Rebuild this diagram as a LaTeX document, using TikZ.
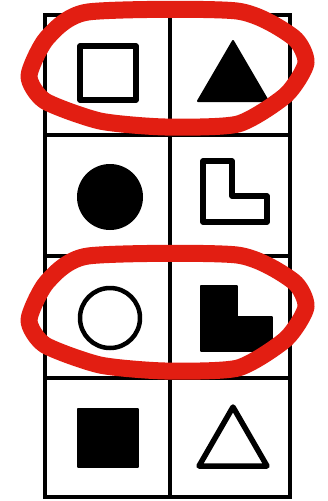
\documentclass[tikz,border=0pt]{standalone}
\usetikzlibrary{calc}
\definecolor{penred}{RGB}{226,30,18}

\begin{document}
\begin{tikzpicture}[
    x=1pt, y=-1pt,
    % Clean, organized styles
    gridline/.style={draw=black, line width=3.6pt, line cap=rect},
    hollow/.style={draw=black, fill=white, line width=5.5pt, line join=round},
    solidfig/.style={draw=black, fill=black, line width=2pt, line join=round},
    redloop/.style={draw=penred, line width=17pt, line join=round}
]

% Canvas
\useasboundingbox[fill=white] (0,0) rectangle (327,501);

% Grid (4 rows, 2 columns)
\draw[gridline] (45,15) rectangle (290,497);
\draw[gridline] (170,15) -- (170,497);
\foreach \y in {135,256,378}
    \draw[gridline] (45,\y) -- (290,\y);

% Row 1
\draw[hollow] (80,46) rectangle (136,100);
\draw[solidfig] (233,41) -- (268,101) -- (198,101) -- cycle;

% Row 2
\fill (110,197) circle (33);
\draw[hollow] (203,161) -- (232,161) -- (232,196) -- (267,196) -- (267,222) -- (203,222) -- cycle;

% Row 3
\draw[hollow, line width=4.5pt] (110,318) circle (30);
\draw[solidfig] (201,286) -- (237,286) -- (237,317) -- (272,317) -- (272,351) -- (201,351) -- cycle;

% Row 4
\draw[solidfig] (78,409) rectangle (138,467);
\draw[hollow] (233,407) -- (267,466) -- (199,466) -- cycle;

% Red loops round rows 1 and 3
\foreach \dy in {0,244}
    \draw[redloop, shift={(0,\dy)}] plot[smooth cycle, tension=0.4] coordinates
        {(88,12) (237,11) (293,37) (306,63) (286,95) (238,124) (165,127) (100,121) (45,101) (29,76) (47,38)};

\end{tikzpicture}
\end{document}
